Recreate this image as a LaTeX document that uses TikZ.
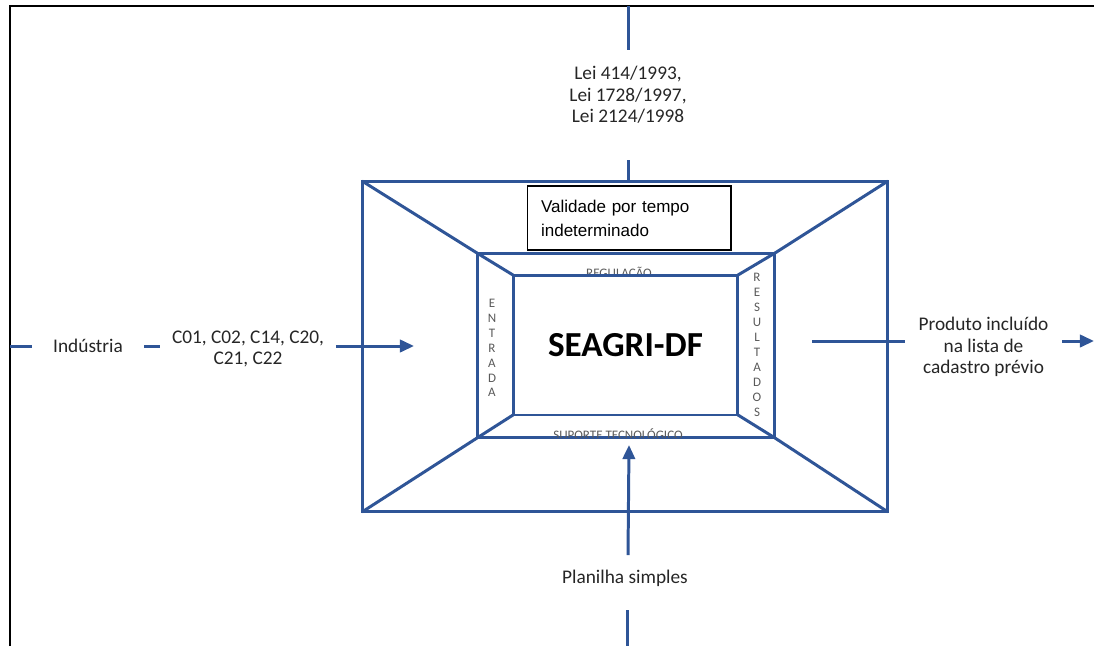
\documentclass[tikz,border=0pt]{standalone}
\usepackage{fontspec}
\setmainfont{Carlito}
\newfontfamily\arialfont{Liberation Sans}
\usetikzlibrary{positioning,arrows.meta}
\definecolor{seablue}{HTML}{2F5597}
\definecolor{wallgray}{HTML}{595959}

\begin{document}
\begin{tikzpicture}[x=0.02cm,y=-0.02cm,
		boxline/.style={draw=seablue, line width=1.7pt, outer sep=0pt},
		blueline/.style={draw=seablue, line width=1.7pt},
		flowarrow/.style={blueline, -{Triangle[length=8pt,width=7pt]}},
		sidetext/.style={font=\fontsize{11}{12.2}\selectfont, text=black!85, align=center},
		walltext/.style={font=\fontsize{7.4}{8.5}\selectfont, text=wallgray, align=center, inner sep=0pt}]
		\useasboundingbox (0,0) rectangle (1094,646);
		\draw[line width=1.1pt] (10,646) -- (10,6) -- (1094,6);
		
		% the three frames
		\node[boxline, minimum width=10.52cm, minimum height=6.62cm] (outer) at (625,346.5) {};
		\node[boxline, minimum width=5.96cm, minimum height=3.7cm] (middle) at (626,345.5) {};
		\begin{scope}
			\clip (middle.south west) rectangle (middle.north east);
			\node[walltext, anchor=base] (regul) at (619,277) {REGULAÇÃO};
			\node[walltext, anchor=base] (suporte) at (618,439.5) {SUPORTE TECNOLÓGICO};
		\end{scope}
		\node[boxline, fill=white, minimum width=4.5cm, minimum height=2.8cm, font=\bfseries\fontsize{20}{24}\selectfont] (inner) at (625.5,345) {SEAGRI-DF};
		\node[walltext] (entrada) at (492,348) {E\\N\\T\\R\\A\\D\\A};
		\node[walltext] (resultados) at (757,345) {R\\E\\S\\U\\L\\T\\A\\D\\O\\S};
		
		\draw[blueline] (outer.north west) -- (middle.north west) -- (inner.north west);
		\draw[blueline] (outer.north east) -- (middle.north east) -- (inner.north east);
		\draw[blueline] (outer.south west) -- (middle.south west) -- (inner.south west);
		\draw[blueline] (outer.south east) -- (middle.south east) -- (inner.south east);
		
		\node[draw=black, line width=0.6pt, fill=white, minimum width=4.08cm, minimum height=1.28cm, text width=3.52cm, inner xsep=0.28cm, align=left, font=\arialfont\fontsize{9.7}{13.6}\selectfont] (validade) at (629,218) {Validade por tempo\\indeterminado};
		
		% top: laws
		\node[sidetext, inner ysep=0.32cm] (lei) at (628,95) {Lei 414/1993,\\Lei 1728/1997,\\Lei 2124/1998};
		\coordinate (lawtop) at (628,6);
		\coordinate (lawbot) at (628,160);
		\draw[blueline] (lawtop) -- (lei.north);
		\draw[blueline] (lawbot) -- (lawbot |- outer.north);
		
		% left: input
		\coordinate (frameleft) at (10,346);
		\coordinate (entrypt) at (414,346);
		\node[sidetext, inner xsep=0.23cm] (codes) at (248,349) {C01, C02, C14, C20,\\C21, C22};
		\draw[blueline] (frameleft) -- (frameleft -| codes.west);
		\node[sidetext, fill=white, inner xsep=0.42cm] (industria) at (88,346) {Indústria};
		\draw[flowarrow] (codes.east |- entrypt) -- (entrypt);
		
		% right: output
		\coordinate (exitpt) at (812,341);
		\coordinate (rightend) at (1094,341);
		\draw[flowarrow] (exitpt) -- (rightend);
		\node[sidetext, fill=white, inner xsep=0.27cm] (produto) at (983.5,347) {Produto incluído\\na lista de\\cadastro prévio};
		
		% bottom: support
		\node[sidetext] (planilha) at (625,578) {Planilha simples};
		\coordinate (sheettop) at (628,555);
		\coordinate (supportpt) at (629,445);
		\coordinate (sheetbot) at (627,610);
		\coordinate (bottomend) at (627,646);
		\draw[flowarrow] (sheettop) -- (supportpt);
		\draw[blueline] (sheetbot) -- (bottomend);
	\end{tikzpicture}
\end{document}
